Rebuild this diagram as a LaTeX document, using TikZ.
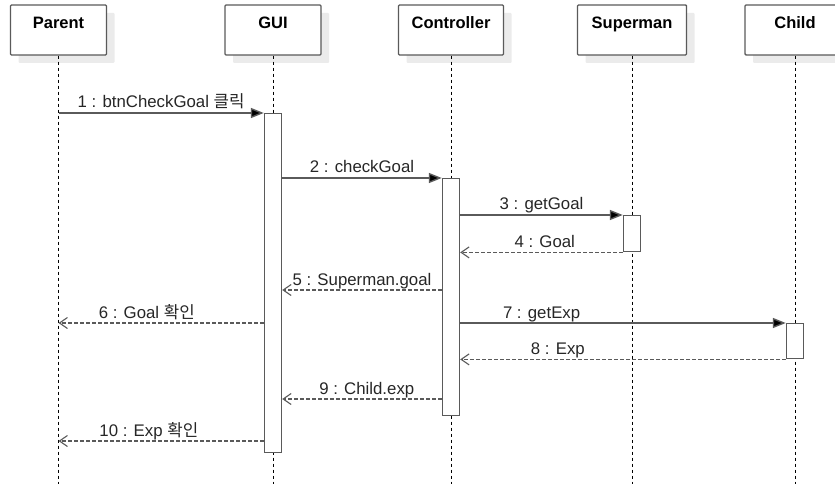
\documentclass[tikz,border=0pt]{standalone}
\usepackage{fontspec}
\setmainfont{Liberation Sans}
\newfontfamily\kr{Noto Sans CJK KR}
\usetikzlibrary{arrows.meta,shadows}
\definecolor{edge}{HTML}{5A5A5A}

\begin{document}
\begin{tikzpicture}[x=1pt,y=-1pt,
  head/.style={draw=edge,line width=1.4pt,fill=white,rounded corners=1pt,
    font=\fontsize{16.5}{18}\selectfont\bfseries,inner ysep=8pt,text height=16pt,text depth=18pt,
    drop shadow={shadow xshift=8pt,shadow yshift=-8pt,fill=black!8,opacity=1}},
  lifeline/.style={line width=0.9pt,dash pattern=on 3pt off 3pt},
  act/.style={draw=edge,line width=1.4pt,fill=white,minimum width=17pt,inner sep=0pt,anchor=north},
  call/.style={draw=edge,line width=1.4pt,-{Triangle[length=13pt,width=10pt,fill=black]}},
  ret/.style={draw=edge,line width=1.4pt,dash pattern=on 3.5pt off 2.5pt,
    -{Straight Barb[length=8pt,width=11pt,line width=1.1pt]}},
  msg/.style={anchor=base,yshift=5pt,inner sep=0pt,text=black!85,font=\fontsize{16.8}{18}\selectfont}]
\useasboundingbox (0,0) rectangle (835,489);
\node[head,minimum width=96pt] (parent) at (58.5,30) {Parent};
\node[head,minimum width=96pt] (gui) at (273,30) {GUI};
\node[head,minimum width=105pt] (ctrl) at (451,30) {Controller};
\node[head,minimum width=109pt] (superman) at (632,30) {Superman};
\node[head,minimum width=100pt] (child) at (795,30) {Child};

\coordinate (bottom) at (0,484);
\foreach \n in {parent,gui,ctrl,superman,child}
  \draw[lifeline] (\n.south) -- (\n |- bottom);

\node[act,minimum height=339pt] (gact) at (gui |- 0,113) {};
\node[act,minimum height=237pt] (cact) at (ctrl |- 0,178) {};
\node[act,minimum height=36pt] (sact) at (superman |- 0,215) {};
\node[act,minimum height=35pt] (chact) at (child |- 0,323) {};

\coordinate (y5) at (0,290);
\coordinate (y9) at (0,399);
\coordinate (y10) at (0,441);

\draw[call] (parent |- gact.north) -- (gact.north west) node[msg,pos=.5] {1 : btnCheckGoal {\kr 클릭}};
\draw[call] (gact.east |- cact.north) -- (cact.north west) node[msg,pos=.5] {2 : checkGoal};
\draw[call] (cact.east |- sact.north) -- (sact.north west) node[msg,pos=.5] {3 : getGoal};
\draw[ret] (sact.south west) -- (cact.east |- sact.south) node[msg,pos=.48] {4 : Goal};
\draw[ret] (cact.west |- y5) -- (gact.east |- y5) node[msg,pos=.5] {5 : Superman.goal};
\draw[ret] (gact.west |- chact.north) -- (parent |- chact.north) node[msg,pos=.57] {6 : Goal {\kr 확인}};
\draw[call] (cact.east |- chact.north) -- (chact.north west) node[msg,pos=.25] {7 : getExp};
\draw[ret] (chact.south west) -- (cact.east |- chact.south) node[msg,pos=.7] {8 : Exp};
\draw[ret] (cact.west |- y9) -- (gact.east |- y9) node[msg,pos=.47] {9 : Child.exp};
\draw[ret] (gact.west |- y10) -- (parent |- y10) node[msg,pos=.56] {10 : Exp {\kr 확인}};
\end{tikzpicture}
\end{document}
